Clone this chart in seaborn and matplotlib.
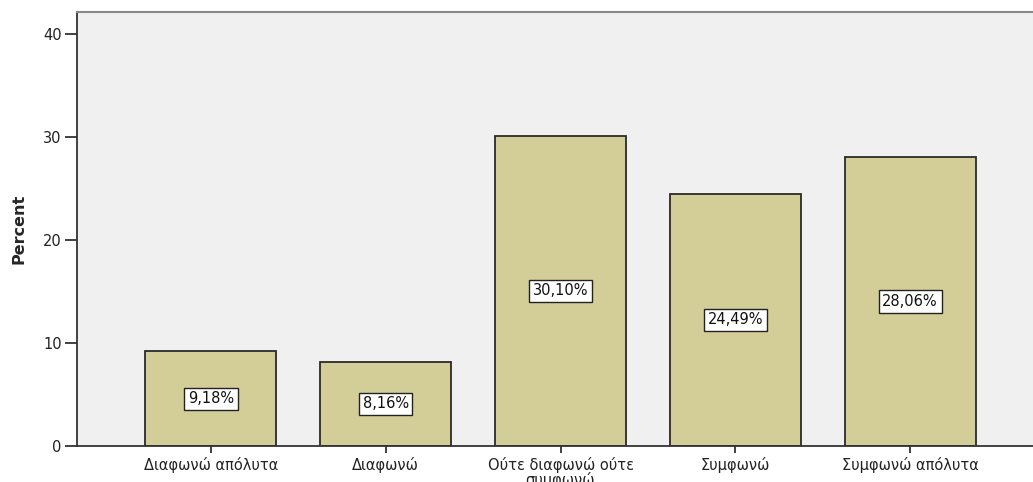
import matplotlib
matplotlib.use("Agg")
import matplotlib.pyplot as plt
import seaborn as sns
import pandas as pd

categories = ["Διαφωνώ απόλυτα", "Διαφωνώ", "Ούτε διαφωνώ ούτε\nσυμφωνώ", "Συμφωνώ", "Συμφωνώ απόλυτα"]
percent = [9.18, 8.16, 30.10, 24.49, 28.06]
yticks = [0, 10, 20, 30, 40]

df = pd.DataFrame({"category": categories, "percent": percent})

sns.set_style("white")
plt.rcParams["font.family"] = ["DejaVu Sans"]

fig = plt.figure(figsize=(10.33, 4.82), dpi=100)
ax = fig.add_axes([77 / 1033, 36 / 482, (1044 - 77) / 1033, (446 - 12) / 482])
ax.set_facecolor("#F0F0F0")

sns.barplot(data=df, x="category", y="percent", color="#D3CE97", width=0.75,
            edgecolor="#2a2a2a", linewidth=1.3, saturation=1, ax=ax)

ax.set_xlim(-0.766, len(categories) - 1 + 0.766)
ax.set_ylim(0, 42.1)
ax.set_yticks(yticks)
ax.set_yticklabels([str(t) for t in yticks], fontsize=10.5, color="#222222")
ax.set_xticks(range(len(categories)))
ax.set_xticklabels(categories, fontsize=10.5, color="#222222", linespacing=0.9)
ax.tick_params(axis="both", direction="out", width=1.3, color="#333333", pad=2,
               left=True, bottom=True)
ax.tick_params(axis="y", length=9)
ax.tick_params(axis="x", length=5, pad=3)

ax.set_xlabel("")
ax.set_ylabel("Percent", fontsize=11.5, fontweight="bold", labelpad=12)

for side in ["left", "bottom"]:
    ax.spines[side].set_color("#333333")
    ax.spines[side].set_linewidth(1.3)
ax.spines["top"].set_color("#888888")
ax.spines["top"].set_linewidth(1.5)
ax.spines["right"].set_visible(False)

for i, v in enumerate(percent):
    ax.text(i, v / 2, f"{v:.2f}%".replace(".", ","), ha="center", va="center",
            fontsize=10.5, color="#111111",
            bbox=dict(boxstyle="square,pad=0.25", facecolor="white",
                      edgecolor="#222222", linewidth=1.0))

fig.savefig("out.png", dpi=100)
